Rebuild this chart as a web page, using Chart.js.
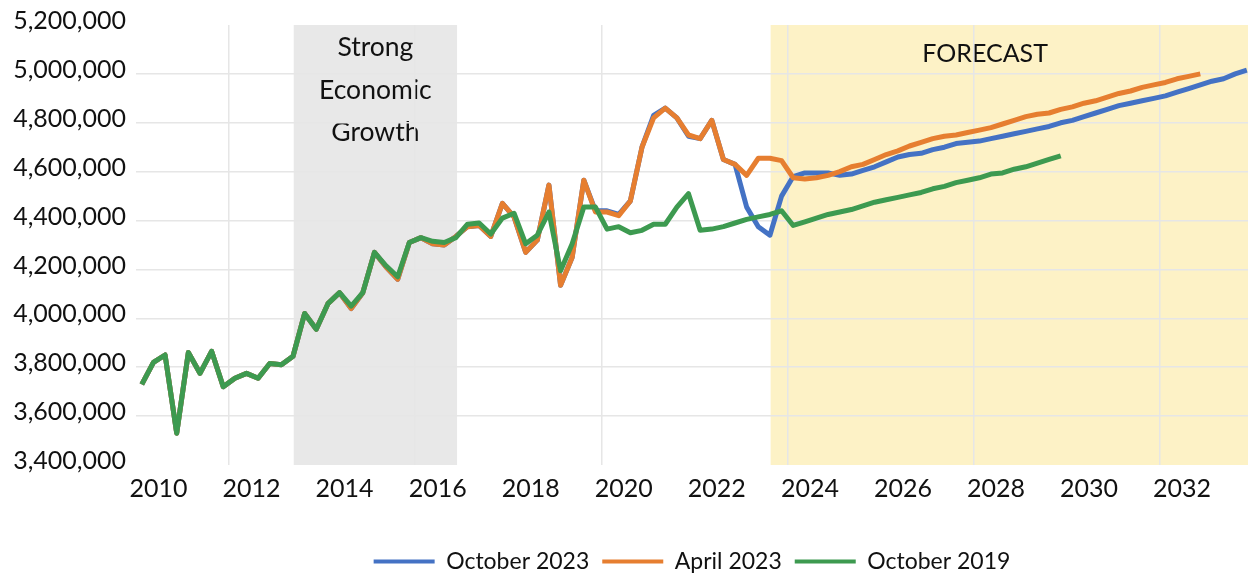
<!DOCTYPE html>
<html>
<head>
<meta charset="utf-8">
<script src="https://cdn.jsdelivr.net/npm/chart.js@4.4.1/dist/chart.umd.min.js"></script>
<style>
  html, body { margin: 0; padding: 0; background: #fff; }
</style>
</head>
<body>
<canvas id="forecastChart" width="1248" height="573"></canvas>
<script>
// quarterly values, in thousands, first point is 2010 Q1
const firstQuarter = 2010.125;
const october2023 = [
  3730, 3820, 3850, 3530, 3860, 3775, 3865, 3720, 3755, 3775,
  3755, 3815, 3810, 3845, 4020, 3955, 4060, 4105, 4040, 4105,
  4270, 4210, 4160, 4310, 4330, 4305, 4300, 4335, 4375, 4380,
  4335, 4470, 4415, 4270, 4320, 4545, 4135, 4250, 4565, 4440,
  4440, 4425, 4480, 4700, 4830, 4860, 4820, 4745, 4735, 4810,
  4650, 4630, 4455, 4375, 4340, 4500, 4580, 4595, 4595, 4595,
  4585, 4590, 4605, 4620, 4640, 4660, 4670, 4675, 4690, 4700,
  4715, 4720, 4725, 4735, 4745, 4755, 4765, 4775, 4785, 4800,
  4810, 4825, 4840, 4855, 4870, 4880, 4890, 4900, 4910, 4925,
  4940, 4955, 4970, 4980, 5000, 5015
];
const april2023 = [
  3730, 3820, 3850, 3530, 3860, 3775, 3865, 3720, 3755, 3775,
  3755, 3815, 3810, 3845, 4020, 3955, 4060, 4105, 4040, 4105,
  4270, 4210, 4160, 4310, 4330, 4305, 4300, 4335, 4375, 4380,
  4335, 4470, 4415, 4270, 4320, 4545, 4135, 4250, 4565, 4435,
  4435, 4420, 4480, 4700, 4820, 4860, 4820, 4750, 4735, 4810,
  4650, 4630, 4585, 4655, 4655, 4645, 4575, 4570, 4575, 4585,
  4600, 4620, 4630, 4650, 4670, 4685, 4705, 4720, 4735, 4745,
  4750, 4760, 4770, 4780, 4795, 4810, 4825, 4835, 4840, 4855,
  4865, 4880, 4890, 4905, 4920, 4930, 4945, 4955, 4965, 4980,
  4990, 5000
];
const october2019 = [
  3730, 3820, 3850, 3530, 3860, 3775, 3865, 3720, 3755, 3775,
  3755, 3815, 3810, 3845, 4020, 3955, 4060, 4105, 4050, 4105,
  4270, 4215, 4170, 4310, 4330, 4315, 4310, 4330, 4385, 4390,
  4345, 4410, 4430, 4305, 4340, 4435, 4195, 4305, 4455, 4455,
  4365, 4375, 4350, 4360, 4385, 4385, 4455, 4510, 4360, 4365,
  4375, 4390, 4405, 4415, 4425, 4440, 4380, 4395, 4410, 4425,
  4435, 4445, 4460, 4475, 4485, 4495, 4505, 4515, 4530, 4540,
  4555, 4565, 4575, 4590, 4595, 4610, 4620, 4635, 4650, 4665
];

const seriesNames = ['October 2023', 'April 2023', 'October 2019'];
const seriesColors = ['#4472C4', '#E67E30', '#3D9A50'];
const yearTicks = [2010, 2012, 2014, 2016, 2018, 2020, 2022, 2024, 2026, 2028, 2030, 2032];

const strongGrowth = { from: 2013.39, to: 2016.9, text: ['Strong', 'Economic', 'Growth'] };
const forecast = { from: 2023.64, textAt: 2028.25, text: 'FORECAST' };

const textColor = '#111';
const gridColor = '#E6E6E6';
Chart.defaults.font.family = 'Lato';

function toPoints(values) {
  return values.map((v, i) => ({ x: firstQuarter + i / 4, y: v * 1000 }));
}

const shading = {
  id: 'shading',
  beforeDraw(chart) {
    const ctx = chart.ctx;
    const a = chart.chartArea;
    const x = chart.scales.x;
    ctx.save();
    const g0 = x.getPixelForValue(strongGrowth.from);
    const g1 = x.getPixelForValue(strongGrowth.to);
    ctx.fillStyle = '#E8E8E8';
    ctx.fillRect(g0, a.top, g1 - g0, a.bottom - a.top);
    const f0 = x.getPixelForValue(forecast.from);
    ctx.fillStyle = '#FDF2C6';
    ctx.fillRect(f0, a.top, a.right - f0, a.bottom - a.top);

    ctx.fillStyle = textColor;
    ctx.textAlign = 'center';
    ctx.textBaseline = 'alphabetic';
    ctx.font = '26.5px Lato';
    strongGrowth.text.forEach((t, i) => {
      ctx.fillText(t, (g0 + g1) / 2, a.top + 31 + i * 42.5);
    });
    ctx.font = '25px Lato';
    ctx.fillText(forecast.text, x.getPixelForValue(forecast.textAt), a.top + 37);
    ctx.restore();
  }
};

const allSeries = [october2023, april2023, october2019];

new Chart(document.getElementById('forecastChart'), {
  type: 'line',
  data: {
    datasets: allSeries.map((values, i) => ({
      label: seriesNames[i],
      data: toPoints(values),
      borderColor: seriesColors[i],
      backgroundColor: seriesColors[i],
      borderWidth: 5,
      pointRadius: 0,
      tension: 0,
      borderJoinStyle: 'round',
      order: 3 - i // green on top, then orange, then blue
    }))
  },
  options: {
    responsive: false,
    animation: false,
    layout: { padding: { top: 22, right: 0, left: 0, bottom: -10 } },
    plugins: {
      tooltip: { enabled: false },
      legend: {
        position: 'bottom',
        fullSize: false,
        labels: {
          color: textColor,
          font: { size: 23 },
          boxWidth: 61,
          boxHeight: 4,
          padding: 13,
          generateLabels: chart => Chart.defaults.plugins.legend.labels.generateLabels(chart)
            .map(item => Object.assign(item, { lineWidth: 0 }))
            .sort((p, q) => p.datasetIndex - q.datasetIndex)
        }
      }
    },
    scales: {
      x: {
        type: 'linear',
        min: 2010,
        max: 2033.9,
        afterBuildTicks: s => { s.ticks = yearTicks.map(v => ({ value: v })); },
        afterFit: s => { s.height = 72; },
        border: { display: false },
        grid: {
          color: c => (c.tick && c.tick.value % 4 === 0) ? gridColor : 'rgba(0,0,0,0)',
          lineWidth: 1.5,
          drawTicks: false
        },
        ticks: {
          color: textColor,
          font: { size: 25 },
          padding: 9,
          labelOffset: 22.5,
          maxRotation: 0,
          autoSkip: false,
          callback: v => String(v)
        }
      },
      y: {
        min: 3400000,
        max: 5200000,
        afterFit: s => { s.width = 136; },
        border: { display: false },
        grid: {
          color: c => (c.tick && (c.tick.value === 3400000 || c.tick.value === 5200000)) ? 'rgba(0,0,0,0)' : gridColor,
          lineWidth: 1.5,
          drawTicks: false
        },
        ticks: {
          stepSize: 200000,
          color: textColor,
          font: { size: 25 },
          padding: 10,
          labelOffset: -4,
          callback: v => v.toLocaleString('en-US')
        }
      }
    }
  },
  plugins: [shading]
});
</script>
</body>
</html>
